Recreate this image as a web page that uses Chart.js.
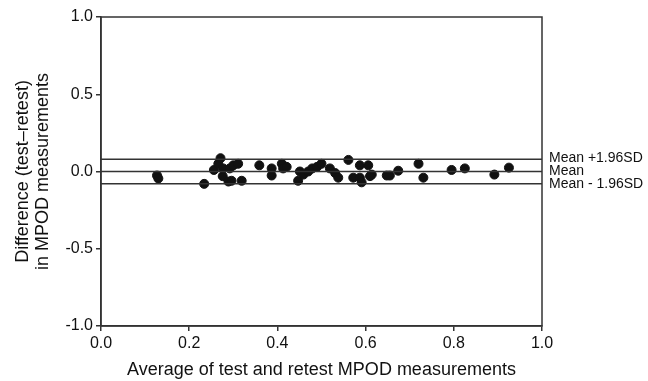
<!DOCTYPE html>
<html lang="en">
  <head>
    <meta charset="UTF-8" />
    <title>Bland-Altman MPOD</title>
    <script src="https://cdn.jsdelivr.net/npm/chart.js"></script>
    <style>
      body { margin: 0; background: #fff; }
      #wrap { width: 648px; height: 381px; }
    </style>
  </head>
  <body>
    <div id="wrap"><canvas id="baChart" width="648" height="381"></canvas></div>

    <script>
      // average of test and retest (x) and difference test-retest (y)
      const avgValues = [
        0.127, 0.13, 0.234, 0.256, 0.266, 0.271, 0.277, 0.276, 0.289, 0.292,
        0.30, 0.311, 0.296, 0.319, 0.359, 0.387, 0.387, 0.41, 0.413, 0.421,
        0.447, 0.451, 0.459, 0.47, 0.479, 0.49, 0.50, 0.519, 0.531, 0.538,
        0.561, 0.572, 0.587, 0.606, 0.587, 0.591, 0.614, 0.61, 0.648, 0.655,
        0.674, 0.72, 0.731, 0.795, 0.825, 0.892, 0.925
      ];
      const diffValues = [
        -0.026, -0.045, -0.08, 0.01, 0.05, 0.086, 0.02, -0.03, -0.065, 0.02,
        0.04, 0.05, -0.06, -0.06, 0.04, 0.02, -0.026, 0.05, 0.02, 0.03,
        -0.06, 0.0, -0.02, 0.0, 0.02, 0.03, 0.05, 0.02, -0.01, -0.04,
        0.075, -0.04, 0.04, 0.04, -0.04, -0.07, -0.02, -0.03, -0.026, -0.026,
        0.005, 0.05, -0.04, 0.01, 0.02, -0.02, 0.025
      ];
      const meanDiff = 0.0;
      const upperLoA = 0.08;
      const lowerLoA = -0.08;
      const refLabels = ["Mean +1.96SD", "Mean", "Mean - 1.96SD"];
      const xTicks = [0, 0.2, 0.4, 0.6, 0.8, 1.0];
      const yTicks = [-1.0, -0.5, 0.0, 0.5, 1.0];

      const ink = "#333";
      const points = avgValues.map((x, i) => ({ x, y: diffValues[i] }));
      const refLine = (y) => ({
        type: "line",
        data: [{ x: 0, y }, { x: 1, y }],
        borderColor: ink,
        borderWidth: 1.5,
        pointRadius: 0,
        showLine: true,
      });

      // frame + labels to the right of the reference lines
      const extras = {
        id: "extras",
        afterDraw(chart) {
          const { ctx, chartArea } = chart;
          const ys = chart.scales.y;
          ctx.save();
          ctx.strokeStyle = ink;
          ctx.lineWidth = 1.5;
          ctx.strokeRect(chartArea.left, chartArea.top,
            chartArea.right - chartArea.left, chartArea.bottom - chartArea.top);
          ctx.fillStyle = "#111";
          ctx.font = "14px 'Liberation Sans', Arial, sans-serif";
          ctx.textBaseline = "middle";
          [upperLoA, meanDiff, lowerLoA].forEach((v, i) => {
            ctx.fillText(refLabels[i], chartArea.right + 7, ys.getPixelForValue(v) + (i - 1) * 0.5);
          });
          ctx.restore();
        },
      };

      const font = { family: "'Liberation Sans', Arial, sans-serif", size: 16 };
      const titleFont = { family: "'Liberation Sans', Arial, sans-serif", size: 18, lineHeight: 1.1 };

      new Chart(document.getElementById("baChart"), {
        type: "scatter",
        data: {
          datasets: [
            refLine(upperLoA),
            refLine(meanDiff),
            refLine(lowerLoA),
            {
              data: points,
              backgroundColor: "#111",
              borderColor: "#111",
              pointRadius: 4.5,
              pointHoverRadius: 4.5,
            },
          ],
        },
        options: {
          responsive: false,
          animation: false,
          layout: { padding: { left: 0, right: 106, top: 17, bottom: 0 } },
          plugins: { legend: { display: false }, tooltip: { enabled: false } },
          scales: {
            x: {
              type: "linear",
              min: 0,
              max: 1,
              afterBuildTicks: (s) => { s.ticks = xTicks.map((v) => ({ value: v })); },
              afterFit: (s) => { s.height = 55; },
              grid: { drawOnChartArea: false, tickLength: 5, color: ink, lineWidth: 1.5 },
              border: { color: ink, width: 1.5 },
              ticks: { color: "#111", font, padding: 3, callback: (v) => v.toFixed(1) },
              title: {
                display: true,
                text: "Average of test and retest MPOD measurements",
                color: "#111",
                font: titleFont,
                padding: { top: 0, bottom: 1 },
              },
            },
            y: {
              type: "linear",
              min: -1,
              max: 1,
              afterBuildTicks: (s) => { s.ticks = yTicks.map((v) => ({ value: v })); },
              afterFit: (s) => { s.width = 101; },
              grid: { drawOnChartArea: false, tickLength: 5, color: ink, lineWidth: 1.5 },
              border: { color: ink, width: 1.5 },
              ticks: { color: "#111", font, padding: 3, callback: (v) => v.toFixed(1) },
              title: {
                display: true,
                text: ["Difference (test\u2013retest)", "in MPOD measurements"],
                color: "#111",
                font: titleFont,
                padding: { top: 13, bottom: 0 },
              },
            },
          },
        },
        plugins: [extras],
      });
    </script>
  </body>
</html>
